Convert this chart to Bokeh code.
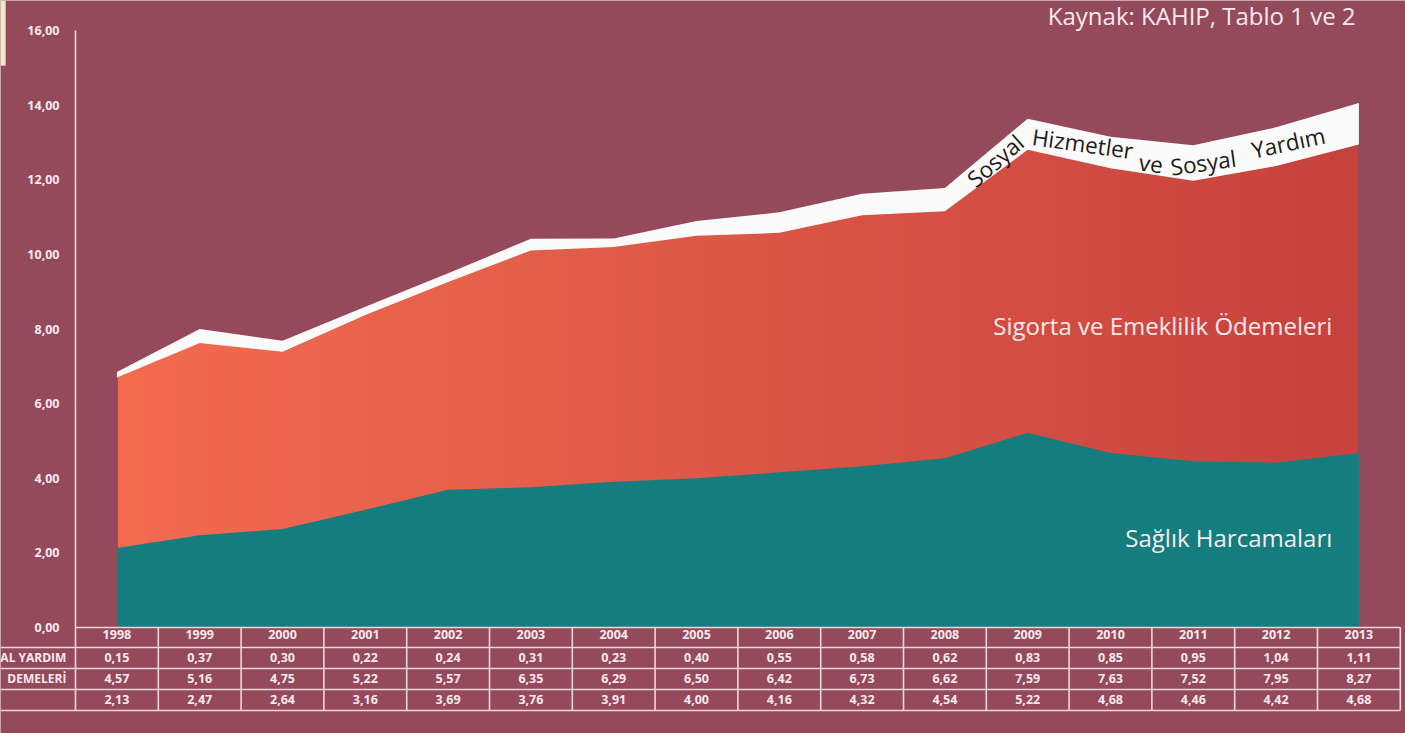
import numpy as np
from bokeh.plotting import figure
from bokeh.models import LinearAxis, FixedTicker, Range1d
from bokeh.core.properties import value
from bokeh.embed import file_html
from bokeh.resources import INLINE

# ---------------- data ----------------
years = [1998, 1999, 2000, 2001, 2002, 2003, 2004, 2005,
         2006, 2007, 2008, 2009, 2010, 2011, 2012, 2013]
sosyal = [0.15, 0.37, 0.30, 0.22, 0.24, 0.31, 0.23, 0.40,
          0.55, 0.58, 0.62, 0.83, 0.85, 0.95, 1.04, 1.11]
sigorta = [4.57, 5.16, 4.75, 5.22, 5.57, 6.35, 6.29, 6.50,
           6.42, 6.73, 6.62, 7.59, 7.63, 7.52, 7.95, 8.27]
saglik = [2.13, 2.47, 2.64, 3.16, 3.69, 3.76, 3.91, 4.00,
          4.16, 4.32, 4.54, 5.22, 4.68, 4.46, 4.42, 4.68]
y_ticks = [0, 2, 4, 6, 8, 10, 12, 14, 16]
row_labels = ["AL YARDIM", "DEMELERİ", ""]
series_labels = ["Sigorta ve Emeklilik Ödemeleri", "Sağlık Harcamaları"]
sosyal_words = ["Sosyal", "Hizmetler", "ve", "Sosyal", "Yardım"]
source_text = "Kaynak: KAHIP, Tablo 1 ve 2"

# ---------------- styling ----------------
BG = "#944a5b"
TEAL = "#147e7f"
WHITE = "#fbfbfb"
LINE = "#ecd6dc"
TXT = "#f6e9ed"
FONT = "Open Sans"


def fmt(v):
    return f"{v:.2f}".replace(".", ",")


yrs = np.array(years, dtype=float)
s_arr = np.array(saglik)
cum2 = s_arr + np.array(sigorta)
total = cum2 + np.array(sosyal)

X0, X1 = 1996.594, 2013.563
Y0, Y1 = -2.842, 16.810

p = figure(width=1405, height=733, output_backend="svg", toolbar_location=None,
           x_axis_location=None, y_axis_location=None,
           x_range=Range1d(X0, X1), y_range=Range1d(Y0, Y1),
           min_border=0, min_border_left=0, min_border_right=0,
           min_border_top=0, min_border_bottom=0,
           background_fill_color=BG, border_fill_color=BG, outline_line_color=None)
p.grid.visible = False

# small cream strip of the neighbouring page (top-left corner)
p.quad(left=[X0], right=[X0 + 0.06], bottom=[15.07], top=[Y1],
       fill_color="#f3e8d3", line_color="#cbb9a6", line_width=1)

# gradient for the middle band (drawn first, then masked by the other bands)
n = 512
img = np.empty((1, n), dtype=np.uint32)
view = img.view(dtype=np.uint8).reshape((1, n, 4))
t = np.linspace(0, 1, n)
c0 = np.array([243, 108, 80])
c1 = np.array([199, 66, 61])
for k in range(3):
    view[0, :, k] = (c0[k] + (c1[k] - c0[k]) * t).astype(np.uint8)
view[0, :, 3] = 255
inset = 0.012
img_top = 13.5
p.image_rgba(image=[img], x=years[0] + inset, y=0,
             dw=years[-1] - years[0] - 2 * inset, dh=img_top)

# background mask above the total (starts a hair lower, white band covers the seam)
mask_lo = total - 0.03
p.varea(x=yrs, y1=mask_lo, y2=np.maximum(mask_lo, img_top + 0.1), fill_color=BG)
# white band
p.varea(x=yrs, y1=cum2, y2=total, fill_color=WHITE)
# health
p.varea(x=yrs, y1=np.zeros_like(s_arr), y2=s_arr, fill_color=TEAL)

# ---------------- table ----------------
row_y = [0, -0.536, -1.099, -1.662, -2.225]
p.segment(x0=[X0] * 4, y0=row_y[1:], x1=[years[-1] + 0.5] * 4, y1=row_y[1:],
          line_color=LINE, line_width=1.6)
vx = [y + 0.5 for y in years]
p.segment(x0=vx, y0=[0] * len(vx), x1=vx, y1=[row_y[-1]] * len(vx),
          line_color=LINE, line_width=1.6)

centers = [(row_y[i] + row_y[i + 1]) / 2 for i in range(4)]
for vals, cy in ((sosyal, centers[1]), (sigorta, centers[2]), (saglik, centers[3])):
    p.text(x=years, y=[cy] * len(years), text=[fmt(v) for v in vals],
           text_font=value(FONT), text_font_size="12.5px", text_font_style="bold",
           text_color=TXT, text_align="center", text_baseline="middle")
p.text(x=[1997.39] * 3, y=centers[1:], text=row_labels,
       text_font=value(FONT), text_font_size="12px", text_font_style="bold",
       text_color=TXT, text_align="right", text_baseline="middle")

# ---------------- axes ----------------
yax = LinearAxis(fixed_location=years[0] - 0.5, ticker=FixedTicker(ticks=y_ticks),
                 bounds=(row_y[-1], 16))
yax.major_label_overrides = {t: fmt(t) for t in y_ticks}
yax.major_tick_in = 0
yax.major_tick_out = 0
yax.minor_tick_in = 0
yax.minor_tick_out = 0
yax.major_label_standoff = 16
yax.axis_line_color = LINE
yax.axis_line_width = 1.6
yax.major_label_text_color = TXT
yax.major_label_text_font = FONT
yax.major_label_text_font_size = "12.5px"
yax.major_label_text_font_style = "bold"
p.add_layout(yax, "left")

xax = LinearAxis(fixed_location=0, ticker=FixedTicker(ticks=years),
                 bounds=(years[0] - 0.5, years[-1] + 0.5))
xax.major_label_overrides = {y: str(y) for y in years}
xax.major_tick_in = 0
xax.major_tick_out = 0
xax.minor_tick_in = 0
xax.minor_tick_out = 0
xax.major_label_standoff = 3
xax.axis_line_color = LINE
xax.axis_line_width = 1.6
xax.major_label_text_color = TXT
xax.major_label_text_font = FONT
xax.major_label_text_font_size = "12.5px"
xax.major_label_text_font_style = "bold"
p.add_layout(xax, "below")

# ---------------- labels ----------------
p.text(x=[2012.679, 2012.679], y=[8.094, 2.412], text=series_labels,
       text_font=value(FONT), text_font_size="24px", text_color=TXT,
       text_align="right", text_baseline="middle")

p.text(x=[2012.96], y=[16.41], text=[source_text],
       text_font=value(FONT), text_font_size="24px", text_color=TXT,
       text_align="right", text_baseline="middle")

wx = [2008.61, 2009.665, 2010.49, 2011.12, 2012.15]
wy = [12.517, 12.972, 12.44, 12.46, 12.999]
wa = [np.deg2rad(a) for a in (41, -8, -8, 8, 12)]
p.text(x=wx, y=wy, text=sosyal_words, angle=wa,
       text_font=value(FONT), text_font_size="22.5px", text_color="#1c1c1c",
       text_align="center", text_baseline="middle")

open("out.html", "w").write(file_html(p, INLINE))
